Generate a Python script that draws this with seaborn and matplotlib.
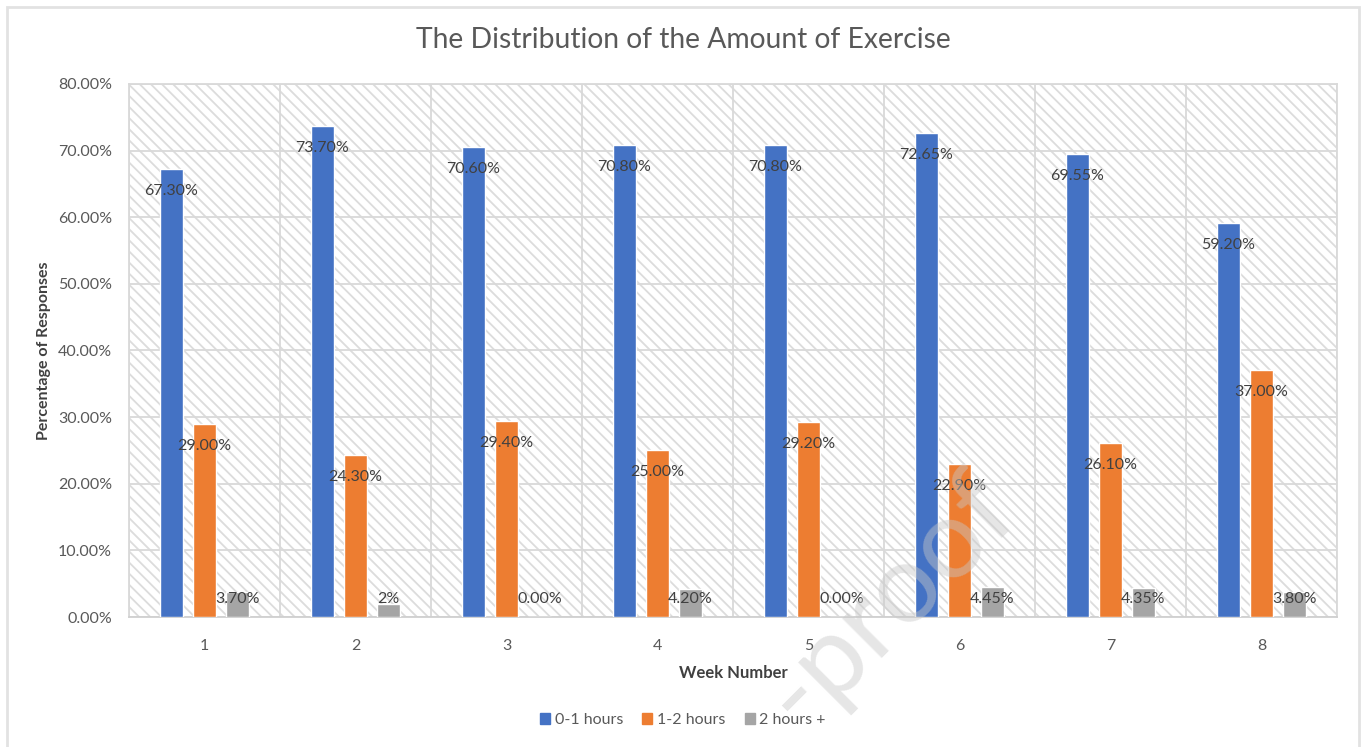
import matplotlib
matplotlib.use("Agg")
import matplotlib.pyplot as plt
from matplotlib.patches import Rectangle
from matplotlib.ticker import FuncFormatter, FixedLocator
import seaborn as sns
import pandas as pd

# Weekly share of responses per exercise bracket (percent)
weeks = ["1", "2", "3", "4", "5", "6", "7", "8"]
series_names = ["0-1 hours", "1-2 hours", "2 hours +"]
hours_0_1 = [67.30, 73.70, 70.60, 70.80, 70.80, 72.65, 69.55, 59.20]
hours_1_2 = [29.00, 24.30, 29.40, 25.00, 29.20, 22.90, 26.10, 37.00]
hours_2_plus = [3.70, 2.00, 0.00, 4.20, 0.00, 4.45, 4.35, 3.80]
labels_0_1 = ["67.30%", "73.70%", "70.60%", "70.80%", "70.80%", "72.65%", "69.55%", "59.20%"]
labels_1_2 = ["29.00%", "24.30%", "29.40%", "25.00%", "29.20%", "22.90%", "26.10%", "37.00%"]
labels_2_plus = ["3.70%", "2%", "0.00%", "4.20%", "0.00%", "4.45%", "4.35%", "3.80%"]
y_ticks = [0, 10, 20, 30, 40, 50, 60, 70, 80]

colors = ["#4472C4", "#ED7D31", "#A5A5A5"]
grid_c = "#d9d9d9"
text_c = "#595959"
label_c = "#404040"

df = pd.DataFrame({
    "week": weeks * 3,
    "value": hours_0_1 + hours_1_2 + hours_2_plus,
    "series": [s for s in series_names for _ in weeks],
})
all_labels = [labels_0_1, labels_1_2, labels_2_plus]

sns.set_theme(style="white")
plt.rcParams["font.family"] = ["Lato", "DejaVu Sans"]
plt.rcParams["hatch.linewidth"] = 1.3

fig = plt.figure(figsize=(13.66, 7.47), dpi=100)
ax = fig.add_axes([0.0944, 0.174, 0.8844, 0.7136])

# Chart area border
fig.patches.append(Rectangle((0.005, -0.01), 0.99, 1.0, transform=fig.transFigure,
                             fill=False, edgecolor="#e2e2e2", linewidth=2.0, zorder=0))

# Hatched plot area
ax.patch.set_facecolor("white")
ax.add_patch(Rectangle((0, 0), 1, 1, transform=ax.transAxes, facecolor="white",
                       edgecolor="#dcdcdc", linewidth=0, hatch="\\\\\\", zorder=0))

sns.barplot(data=df, x="week", y="value", hue="series", palette=colors,
            width=0.656, gap=0.32, saturation=1, ax=ax, zorder=3)

ax.set_ylim(0, 80)
ax.set_xlim(-0.5, len(weeks) - 0.5)
ax.yaxis.set_major_locator(FixedLocator(y_ticks))
ax.yaxis.set_major_formatter(FuncFormatter(lambda v, _: f"{v:.2f}%"))
ax.xaxis.set_minor_locator(FixedLocator([i - 0.5 for i in range(len(weeks) + 1)]))
ax.grid(axis="y", which="major", color=grid_c, linewidth=1.3, zorder=1)
ax.grid(axis="x", which="minor", color=grid_c, linewidth=1.3, zorder=1)
ax.set_axisbelow(True)
ax.tick_params(axis="both", which="both", length=0, colors=text_c, labelsize=11.5)
ax.tick_params(axis="y", pad=12.2)
ax.tick_params(axis="x", pad=16)
for sp in ax.spines.values():
    sp.set_color(grid_c)
    sp.set_linewidth(1.3)
ax.spines["bottom"].set_color("#d0d0d0")

ax.set_xlabel("Week Number", fontsize=12, fontweight="bold", color=label_c, labelpad=8.5)
ax.set_ylabel("Percentage of Responses", fontsize=11.5, fontweight="bold", color=label_c, labelpad=5)

# Value labels near the top of each bar
for cont, labs in zip(ax.containers, all_labels):
    for bar, lab in zip(cont, labs):
        h = bar.get_height()
        xc = bar.get_x() + bar.get_width() / 2
        ax.text(xc, max(h - 3.3, 2.7), lab, ha="center", va="center",
                fontsize=11.5, color=label_c, zorder=5)

ax.get_legend().remove()
handles = [Rectangle((0, 0), 1, 1, color=c) for c in colors]
fig.legend(handles, series_names, loc="center", bbox_to_anchor=(0.5, 0.036), ncol=3,
           frameon=False, fontsize=11.5, handlelength=0.62, handleheight=0.62,
           handletextpad=0.3, columnspacing=1.2, labelcolor=text_c)

fig.text(0.5, 0.946, "The Distribution of the Amount of Exercise", ha="center", va="center",
         fontsize=20.3, color=text_c, fontweight="normal")

# Faint watermark
fig.text(0.545, 0.003, "-proof", rotation=45, ha="left", va="bottom",
         fontsize=80, fontweight="normal", color="#c8c8c8", alpha=0.45, zorder=10)

fig.savefig("out.png", dpi=100)
